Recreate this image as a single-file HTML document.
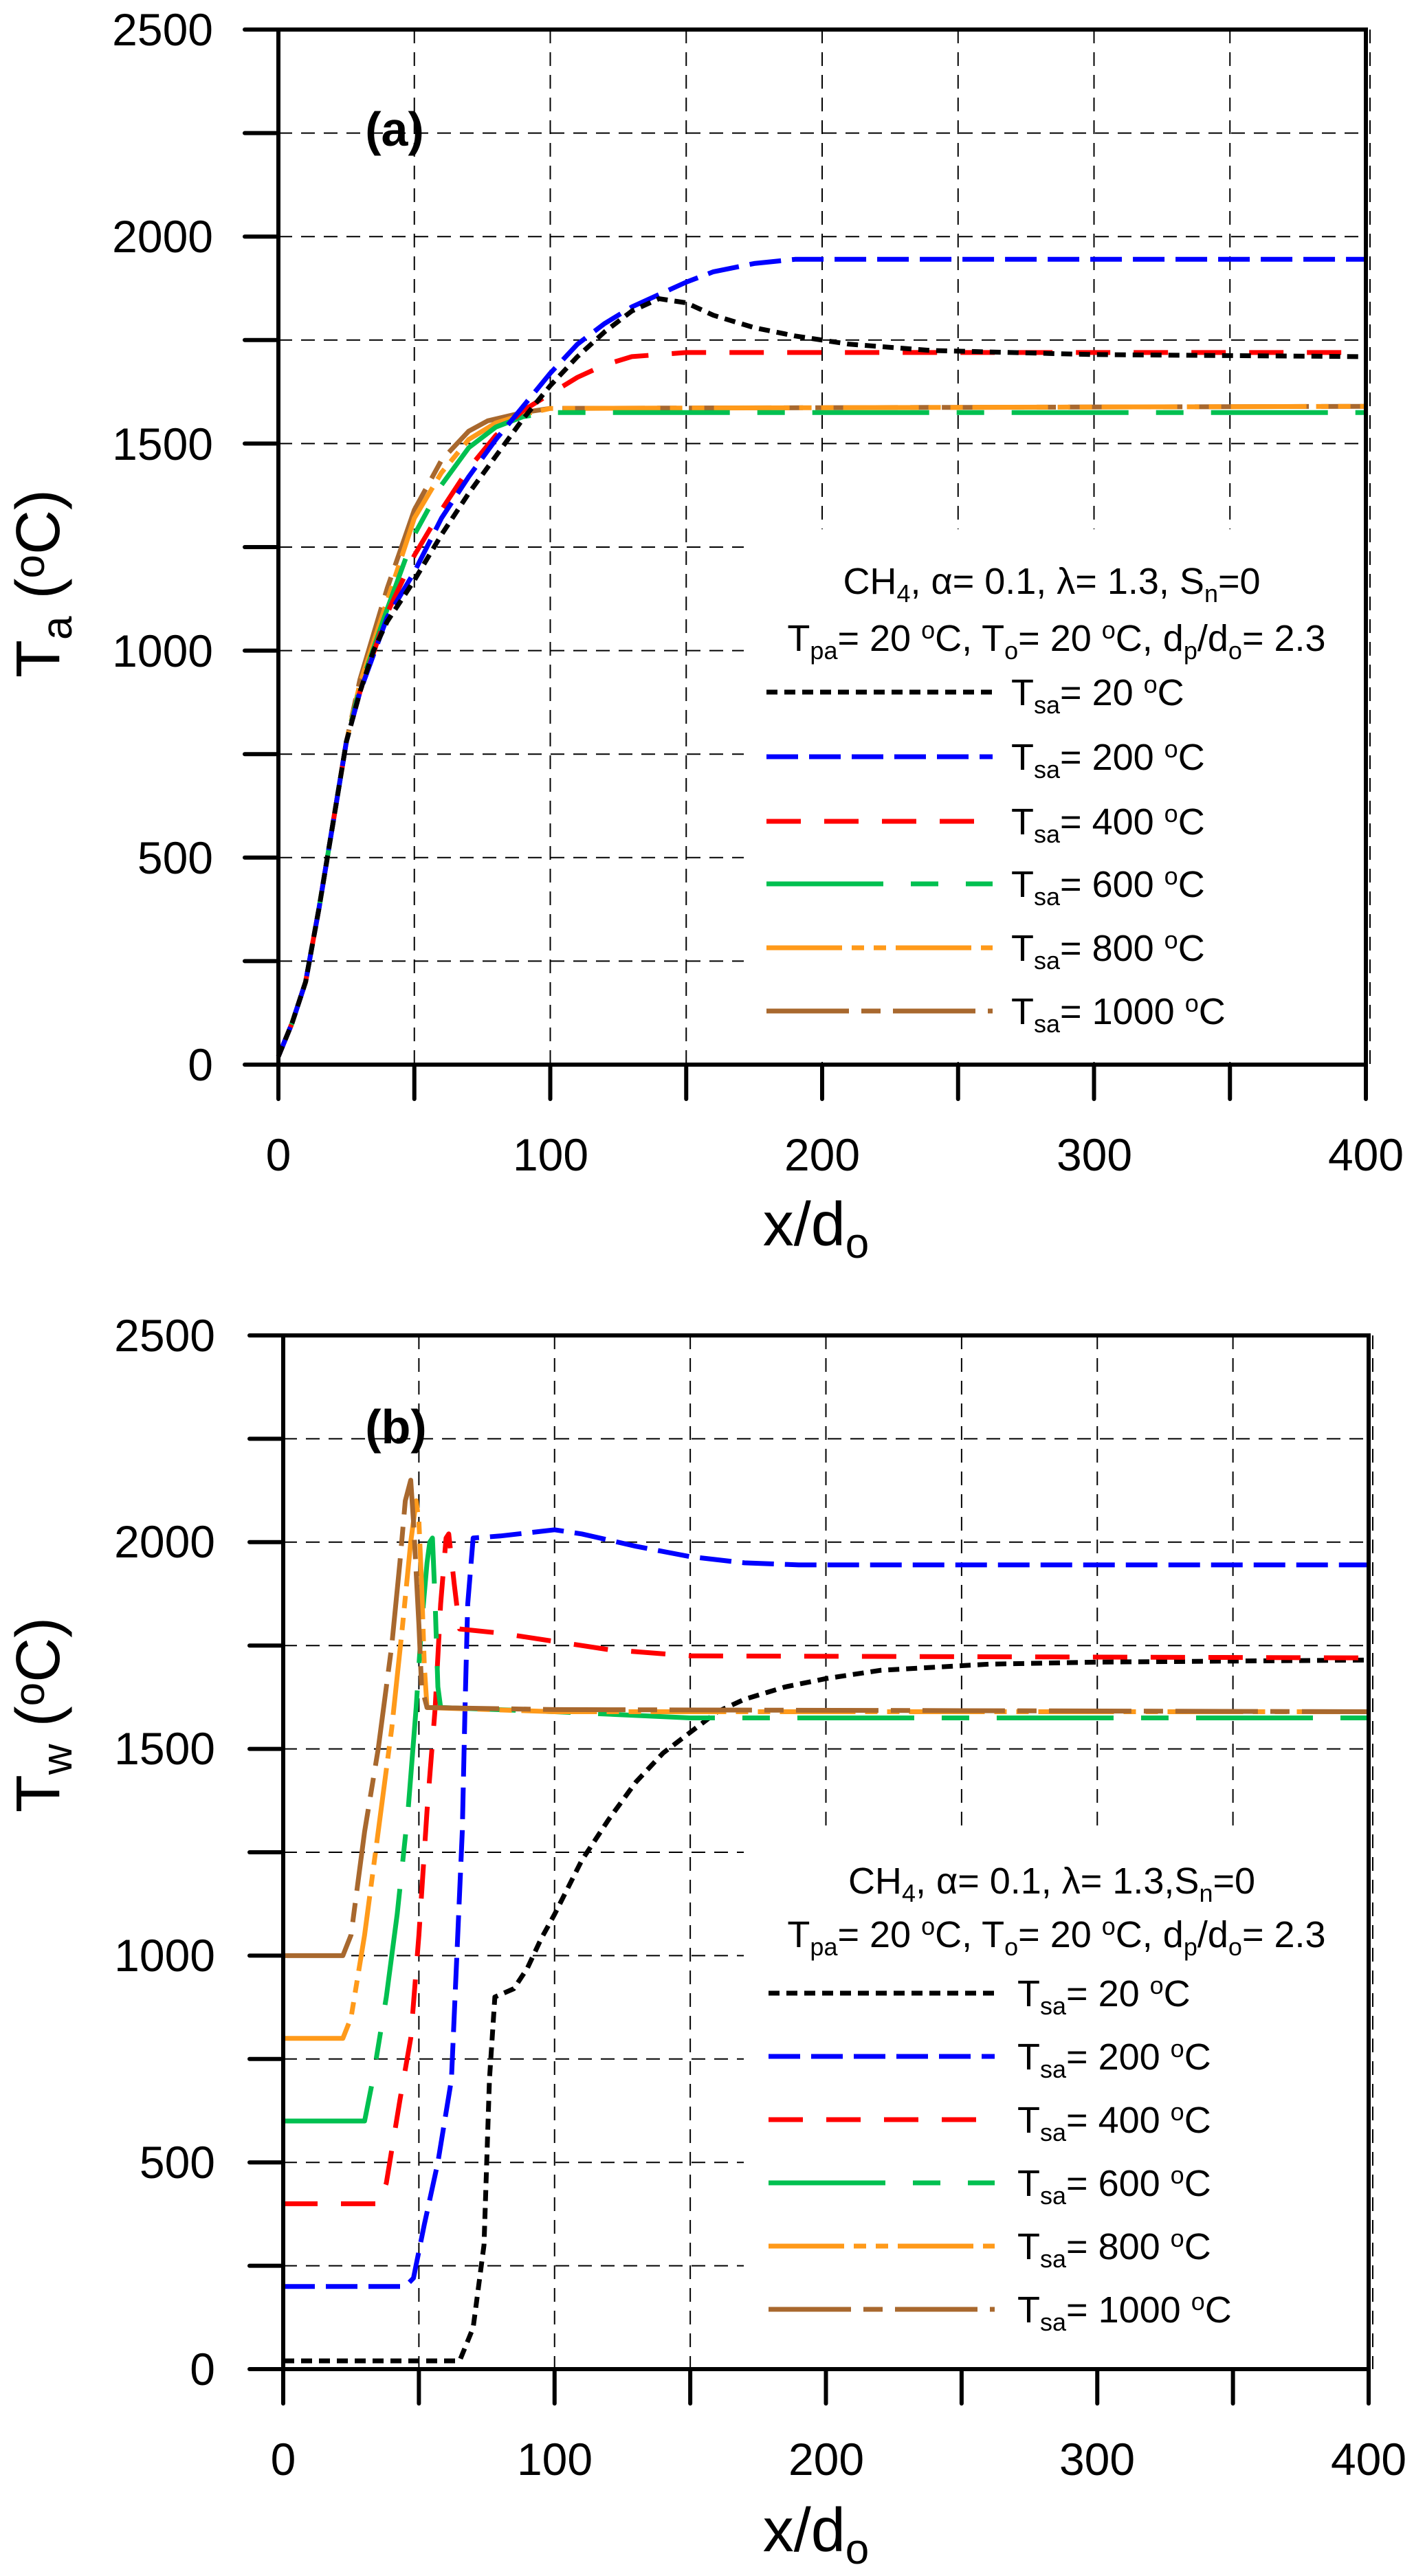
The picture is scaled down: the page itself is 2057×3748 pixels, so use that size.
<!DOCTYPE html>
<html><head><meta charset="utf-8"><style>
html,body{margin:0;padding:0;background:#fff}
svg{display:block;font-family:"Liberation Sans",Arial,sans-serif}
</style></head><body>
<svg id="s" xmlns="http://www.w3.org/2000/svg" width="2057" height="3748" viewBox="0 0 2057 3748">
<rect width="2057" height="3748" fill="#fff"/>
<g id="grid" stroke="#000" stroke-width="2" stroke-dasharray="20 13" fill="none"></g>
<rect x="1082" y="770" width="903" height="775" fill="#fff"/>
<rect x="1082" y="2660" width="907" height="785" fill="#fff"/>
<g id="curves" fill="none" stroke-width="7" stroke-linejoin="round"></g>
<g id="axes" stroke="#000" stroke-width="6" fill="none" stroke-linecap="round"></g>
<g font-size="66" fill="#000">
<text x="310" y="1572" text-anchor="end">0</text>
<text x="310" y="1271" text-anchor="end">500</text>
<text x="310" y="970" text-anchor="end">1000</text>
<text x="310" y="669" text-anchor="end">1500</text>
<text x="310" y="367" text-anchor="end">2000</text>
<text x="310" y="66" text-anchor="end">2500</text>
<text x="405" y="1703" text-anchor="middle">0</text>
<text x="801" y="1703" text-anchor="middle">100</text>
<text x="1196" y="1703" text-anchor="middle">200</text>
<text x="1592" y="1703" text-anchor="middle">300</text>
<text x="1987" y="1703" text-anchor="middle">400</text>
<text x="313" y="3470" text-anchor="end">0</text>
<text x="313" y="3169" text-anchor="end">500</text>
<text x="313" y="2868" text-anchor="end">1000</text>
<text x="313" y="2567" text-anchor="end">1500</text>
<text x="313" y="2266" text-anchor="end">2000</text>
<text x="313" y="1966" text-anchor="end">2500</text>
<text x="412" y="3601" text-anchor="middle">0</text>
<text x="807" y="3601" text-anchor="middle">100</text>
<text x="1202" y="3601" text-anchor="middle">200</text>
<text x="1596" y="3601" text-anchor="middle">300</text>
<text x="1991" y="3601" text-anchor="middle">400</text>
</g>
<g font-size="90" fill="#000">
<text x="1187" y="1812" text-anchor="middle">x/d<tspan font-size="62" dy="18">o</tspan></text>
<text x="1187" y="3712" text-anchor="middle">x/d<tspan font-size="62" dy="18">o</tspan></text>
<text transform="translate(86,849) rotate(-90)" text-anchor="middle">T<tspan font-size="62" dy="18">a</tspan><tspan dy="-18"> (</tspan><tspan font-size="62" dy="-22">o</tspan><tspan dy="22">C)</tspan></text>
<text transform="translate(86,2495) rotate(-90)" text-anchor="middle">T<tspan font-size="62" dy="18">w</tspan><tspan dy="-18"> (</tspan><tspan font-size="62" dy="-22">o</tspan><tspan dy="22">C)</tspan></text>
</g>
<g font-size="70" font-weight="bold" fill="#000">
<text x="574" y="212" text-anchor="middle">(a)</text>
<text x="576" y="2100" text-anchor="middle">(b)</text>
</g>
<g font-size="54" fill="#000">
<text x="1530" y="864" text-anchor="middle">CH<tspan font-size="36" dy="12">4</tspan><tspan dy="-12">, α= 0.1, λ= 1.3, S</tspan><tspan font-size="36" dy="12">n</tspan><tspan dy="-12">=0</tspan></text>
<text x="1537" y="947" text-anchor="middle">T<tspan font-size="36" dy="12">pa</tspan><tspan dy="-12">= 20 </tspan><tspan font-size="36" dy="-18">o</tspan><tspan dy="18">C, T</tspan><tspan font-size="36" dy="12">o</tspan><tspan dy="-12">= 20 </tspan><tspan font-size="36" dy="-18">o</tspan><tspan dy="18">C, d</tspan><tspan font-size="36" dy="12">p</tspan><tspan dy="-12">/d</tspan><tspan font-size="36" dy="12">o</tspan><tspan dy="-12">= 2.3</tspan></text>
<text x="1530" y="2755" text-anchor="middle">CH<tspan font-size="36" dy="12">4</tspan><tspan dy="-12">, α= 0.1, λ= 1.3,S</tspan><tspan font-size="36" dy="12">n</tspan><tspan dy="-12">=0</tspan></text>
<text x="1537" y="2833" text-anchor="middle">T<tspan font-size="36" dy="12">pa</tspan><tspan dy="-12">= 20 </tspan><tspan font-size="36" dy="-18">o</tspan><tspan dy="18">C, T</tspan><tspan font-size="36" dy="12">o</tspan><tspan dy="-12">= 20 </tspan><tspan font-size="36" dy="-18">o</tspan><tspan dy="18">C, d</tspan><tspan font-size="36" dy="12">p</tspan><tspan dy="-12">/d</tspan><tspan font-size="36" dy="12">o</tspan><tspan dy="-12">= 2.3</tspan></text>
<text x="1471" y="1026">T<tspan font-size="36" dy="12">sa</tspan><tspan dy="-12">= 20 </tspan><tspan font-size="36" dy="-18">o</tspan><tspan dy="18">C</tspan></text>
<text x="1471" y="1120">T<tspan font-size="36" dy="12">sa</tspan><tspan dy="-12">= 200 </tspan><tspan font-size="36" dy="-18">o</tspan><tspan dy="18">C</tspan></text>
<text x="1471" y="1214">T<tspan font-size="36" dy="12">sa</tspan><tspan dy="-12">= 400 </tspan><tspan font-size="36" dy="-18">o</tspan><tspan dy="18">C</tspan></text>
<text x="1471" y="1305">T<tspan font-size="36" dy="12">sa</tspan><tspan dy="-12">= 600 </tspan><tspan font-size="36" dy="-18">o</tspan><tspan dy="18">C</tspan></text>
<text x="1471" y="1398">T<tspan font-size="36" dy="12">sa</tspan><tspan dy="-12">= 800 </tspan><tspan font-size="36" dy="-18">o</tspan><tspan dy="18">C</tspan></text>
<text x="1471" y="1490">T<tspan font-size="36" dy="12">sa</tspan><tspan dy="-12">= 1000 </tspan><tspan font-size="36" dy="-18">o</tspan><tspan dy="18">C</tspan></text>
<text x="1480" y="2919">T<tspan font-size="36" dy="12">sa</tspan><tspan dy="-12">= 20 </tspan><tspan font-size="36" dy="-18">o</tspan><tspan dy="18">C</tspan></text>
<text x="1480" y="3011">T<tspan font-size="36" dy="12">sa</tspan><tspan dy="-12">= 200 </tspan><tspan font-size="36" dy="-18">o</tspan><tspan dy="18">C</tspan></text>
<text x="1480" y="3103">T<tspan font-size="36" dy="12">sa</tspan><tspan dy="-12">= 400 </tspan><tspan font-size="36" dy="-18">o</tspan><tspan dy="18">C</tspan></text>
<text x="1480" y="3195">T<tspan font-size="36" dy="12">sa</tspan><tspan dy="-12">= 600 </tspan><tspan font-size="36" dy="-18">o</tspan><tspan dy="18">C</tspan></text>
<text x="1480" y="3287">T<tspan font-size="36" dy="12">sa</tspan><tspan dy="-12">= 800 </tspan><tspan font-size="36" dy="-18">o</tspan><tspan dy="18">C</tspan></text>
<text x="1480" y="3379">T<tspan font-size="36" dy="12">sa</tspan><tspan dy="-12">= 1000 </tspan><tspan font-size="36" dy="-18">o</tspan><tspan dy="18">C</tspan></text>
</g>
</svg>
<script>
(function(){
var NS="http://www.w3.org/2000/svg";
function el(p,t,a){var e=document.createElementNS(NS,t);for(var k in a)e.setAttribute(k,a[k]);p.appendChild(e);return e;}
var P=[{x0:405,x1:1987,y0:1549,y1:43,lx:[1115,1444],ly:[1007,1101,1195,1286,1379,1471]},
       {x0:412,x1:1991,y0:3447,y1:1943,lx:[1118,1447],ly:[2900,2992,3084,3176,3268,3360]}];
var grid=document.getElementById('grid'),axes=document.getElementById('axes'),cv=document.getElementById('curves');
var styles=[{c:'#000',d:'16 10'},{c:'#0000ff',d:'46 16'},{c:'#ff0000',d:'50 34'},{c:'#00c050',d:'170 40 40 40'},{c:'#ff9a1a',d:'110 14 18 14 18 14'},{c:'#a8682e',d:'120 18 28 18'}];
var A=[
[[0,20],[5,100],[10,200],[15,380],[20,580],[25,780],[30,900],[35,1000],[40,1070],[50,1170],[60,1280],[70,1380],[80,1470],[90,1560],[100,1640],[110,1710],[120,1770],[130,1820],[140,1850],[150,1840],[160,1810],[175,1780],[190,1760],[210,1740],[240,1725],[300,1715],[400,1710]],
[[0,20],[5,100],[10,200],[15,380],[20,580],[25,780],[30,900],[40,1080],[50,1190],[60,1320],[70,1420],[80,1510],[90,1590],[100,1670],[110,1740],[120,1790],[130,1830],[140,1860],[150,1890],[160,1915],[175,1935],[190,1945],[400,1945]],
[[0,20],[5,100],[10,200],[15,380],[20,580],[25,780],[30,900],[40,1090],[50,1230],[60,1340],[70,1440],[80,1520],[90,1580],[100,1620],[110,1660],[120,1690],[130,1710],[150,1720],[400,1720]],
[[0,20],[5,100],[10,200],[15,380],[20,580],[25,780],[30,910],[40,1100],[50,1280],[60,1400],[70,1490],[80,1540],[90,1565],[100,1575],[400,1575]],
[[0,20],[5,100],[10,200],[15,380],[20,580],[25,780],[30,920],[40,1120],[50,1320],[60,1430],[70,1510],[80,1550],[90,1570],[100,1585],[400,1590]],
[[0,20],[5,100],[10,200],[15,380],[20,580],[25,780],[30,930],[40,1150],[50,1340],[60,1460],[70,1530],[77,1555],[90,1575],[100,1585],[400,1590]]];
var B=[
[[0,20],[65,20],[70,100],[74,300],[76,700],[78,900],[85,920],[90,970],[95,1040],[100,1100],[110,1230],[120,1330],[130,1420],[140,1490],[150,1540],[160,1590],[170,1620],[185,1650],[200,1670],[220,1690],[260,1705],[300,1710],[400,1715]],
[[0,200],[45,200],[48,220],[52,350],[57,500],[62,700],[64,1000],[66,1300],[67,1600],[68,1850],[70,2010],[80,2015],[100,2030],[110,2020],[130,1990],[150,1965],[170,1950],[190,1945],[400,1945]],
[[0,400],[35,400],[38,450],[43,650],[47,800],[50,1050],[53,1350],[56,1600],[58,1850],[60,2010],[61,2020],[63,1900],[65,1790],[80,1780],[100,1760],[120,1740],[150,1725],[400,1720]],
[[0,600],[30,600],[33,700],[38,900],[42,1100],[46,1350],[49,1600],[51,1800],[53,1950],[54,2000],[55,2010],[56,1850],[57,1650],[58,1600],[100,1590],[150,1575],[400,1575]],
[[0,800],[22,800],[25,850],[30,1050],[35,1300],[40,1550],[44,1800],[47,2000],[49,2100],[50,2050],[51,1900],[52,1700],[53,1600],[100,1590],[400,1590]],
[[0,1000],[22,1000],[25,1050],[30,1300],[35,1500],[40,1750],[43,1950],[45,2100],[47,2150],[48,2050],[50,1800],[51,1650],[53,1600],[100,1595],[400,1590]]];
[A,B].forEach(function(D,i){
 var p=P[i];
 function X(v){return p.x0+(p.x1-p.x0)*v/400;} function Y(v){return p.y0+(p.y1-p.y0)*v/2500;}
 for(var x=50;x<=400;x+=50){el(grid,'line',{x1:X(x)+(x==400?6:0),x2:X(x)+(x==400?6:0),y1:p.y1,y2:p.y0});}
 for(var t=250;t<=2500;t+=250){el(grid,'line',{x1:p.x0,x2:p.x1,y1:Y(t),y2:Y(t)});}
 var order=i==0?[5,4,3,2,1,0]:[0,1,2,3,4,5];
 order.forEach(function(k){
  var pts=D[k];
  el(cv,'polyline',{points:pts.map(function(q){return X(q[0]).toFixed(1)+','+Y(q[1]).toFixed(1);}).join(' '),stroke:styles[k].c,'stroke-dasharray':styles[k].d});
  el(cv,'line',{x1:p.lx[0],x2:p.lx[1],y1:p.ly[k],y2:p.ly[k],stroke:styles[k].c,'stroke-dasharray':styles[k].d});
 });
 el(axes,'rect',{x:p.x0,y:p.y1,width:p.x1-p.x0,height:p.y0-p.y1,'stroke-linecap':'butt'});
 for(var x=0;x<=400;x+=50){el(axes,'line',{x1:X(x),x2:X(x),y1:p.y0,y2:p.y0+50});}
 for(var t=0;t<=2500;t+=250){el(axes,'line',{x1:p.x0-49,x2:p.x0,y1:Y(t),y2:Y(t)});}
});
})();
</script>
</body></html>
